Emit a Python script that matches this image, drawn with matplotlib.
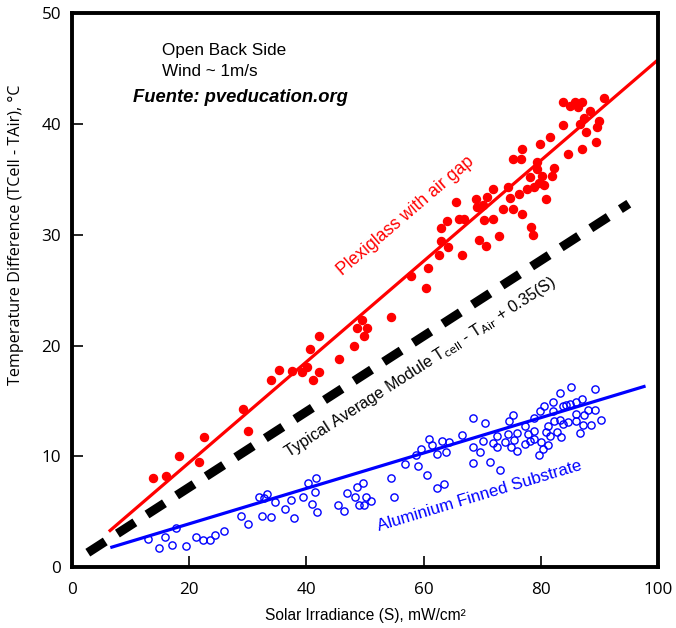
import numpy as np
import matplotlib
matplotlib.use('Agg')
import matplotlib.pyplot as plt

plt.rcParams['font.family'] = ['Liberation Sans', 'DejaVu Sans']

#------------------------------------------------------------------------------
# data
#------------------------------------------------------------------------------
# plexiglass with air gap (red filled dots)
red_x = [13.8, 16.1, 18.2, 21.7, 22.5, 29.2, 30.1, 34.0, 35.4, 37.5, 39.2, 40.1,
         40.6, 42.2, 41.2, 42.2, 45.5, 48.1, 48.7, 49.5, 50.4, 49.9, 54.4, 60.4,
         57.9, 60.7, 62.6, 62.9, 64.2, 62.9, 63.9, 66.6, 65.6, 66.0, 66.9, 68.9,
         69.1, 70.1, 70.8, 69.4, 70.7, 70.3, 71.8, 71.8, 72.8, 73.6, 74.4, 74.7,
         75.3, 76.3, 75.2, 76.7, 76.6, 76.8, 77.7, 78.2, 78.4, 78.7, 78.8, 79.3,
         79.4, 79.7, 79.8, 80.2, 80.6, 80.9, 81.6, 81.9, 82.2, 83.8, 83.8, 84.7,
         85.0, 85.8, 86.3, 87.1, 88.3, 86.6, 87.4, 87.7, 87.0, 89.4, 89.6, 89.9,
         90.8]
red_y = [8.0, 8.2, 10.0, 9.5, 11.7, 14.3, 12.3, 16.9, 17.8, 17.7, 17.6, 18.1,
         19.7, 20.9, 16.9, 17.6, 18.8, 20.0, 21.6, 22.3, 21.6, 20.9, 22.6, 25.2,
         26.3, 27.0, 28.2, 29.4, 28.9, 30.6, 31.2, 28.2, 33.0, 31.4, 31.4, 33.2,
         32.5, 32.7, 33.4, 29.5, 29.0, 31.3, 31.4, 34.1, 29.9, 32.3, 34.3, 33.3,
         32.3, 33.7, 36.8, 37.7, 36.8, 31.9, 34.1, 35.2, 30.7, 30.0, 34.3, 36.6,
         35.9, 34.7, 38.2, 35.3, 34.5, 33.2, 38.8, 35.3, 36.0, 42.0, 39.9, 37.3,
         41.6, 42.0, 41.5, 42.0, 41.2, 40.0, 40.5, 39.3, 37.7, 38.4, 39.7, 40.3,
         42.3]

# aluminium finned substrate (blue open circles)
blue_x = [13.0, 14.8, 15.9, 17.1, 17.7, 19.4, 21.1, 22.4, 23.6, 24.4, 26.0, 28.8,
          30.1, 31.9, 33.3, 32.4, 33.9, 34.7, 32.8, 36.4, 37.3, 37.8, 39.4, 40.2,
          41.6, 41.4, 40.9, 41.8, 45.4, 46.4, 47.0, 48.7, 49.6, 48.3, 49.0, 49.9,
          50.2, 51.1, 54.4, 55.0, 56.9, 58.7, 59.1, 59.5, 60.6, 60.9, 61.5, 62.2,
          62.2, 63.4, 63.1, 63.8, 64.4, 66.6, 68.4, 68.4, 68.4, 69.6, 70.1, 70.5,
          71.3, 71.8, 72.6, 72.6, 73.0, 73.9, 74.4, 74.5, 74.9, 75.3, 75.4, 76.0,
          76.0, 77.3, 77.3, 77.8, 78.2, 78.9, 78.9, 78.9, 79.7, 79.9, 80.0, 80.3,
          80.6, 80.9, 81.2, 81.2, 81.6, 82.0, 82.1, 82.2, 82.8, 83.3, 83.5, 83.3,
          83.7, 83.7, 84.3, 84.7, 85.2, 84.9, 86.0, 86.0, 86.0, 86.7, 87.1, 87.2,
          87.4, 88.0, 88.6, 89.2, 89.3, 90.3]
blue_y = [2.5, 1.7, 2.7, 2.0, 3.5, 1.9, 2.7, 2.4, 2.4, 2.9, 3.3, 4.6,
          3.9, 6.3, 6.6, 4.6, 4.5, 5.9, 6.2, 5.2, 6.1, 4.4, 6.3, 7.6,
          8.0, 6.8, 5.7, 5.0, 5.6, 5.1, 6.7, 7.2, 7.6, 6.3, 5.6, 5.6,
          6.3, 6.0, 8.0, 6.3, 9.3, 10.1, 9.1, 10.7, 8.3, 11.6, 11.0, 10.2,
          7.1, 7.5, 11.4, 10.4, 11.3, 11.9, 13.5, 10.8, 9.4, 10.4, 11.4, 13.0,
          9.5, 11.2, 11.8, 10.8, 8.8, 11.3, 12.0, 13.2, 10.8, 13.7, 11.5, 10.5,
          12.1, 12.7, 11.1, 12.0, 11.4, 12.3, 13.5, 11.6, 10.1, 14.1, 11.3, 10.7,
          14.5, 12.2, 11.0, 12.7, 11.8, 14.9, 14.1, 13.2, 12.2, 15.7, 11.7, 13.3,
          14.5, 12.9, 14.6, 13.1, 16.3, 14.7, 13.8, 13.2, 14.9, 12.1, 15.2, 12.8,
          13.7, 14.2, 12.8, 16.1, 14.2, 13.3]

# fitted lines (end points)
red_fit_x = [6.5, 100]
red_fit_y = [3.3, 45.8]
avg_fit_x = [2.7, 95]
avg_fit_y = [1.3, 32.8]
blue_fit_x = [6.8, 97.6]
blue_fit_y = [1.8, 16.3]

x_ticks = [0, 20, 40, 60, 80, 100]
y_ticks = [0, 10, 20, 30, 40, 50]

#------------------------------------------------------------------------------
# canvas
#------------------------------------------------------------------------------
fig = plt.figure(figsize=(6.76, 6.28), dpi=100)
ax = fig.add_axes([0.1065, 0.097, 0.867, 0.882])

ax.plot(avg_fit_x, avg_fit_y, color='black', lw=6.5, dashes=(2.3, 1.6),
        solid_capstyle='butt', dash_capstyle='butt')
ax.plot(red_fit_x, red_fit_y, color='#ff0000', lw=2.3)
ax.plot(blue_fit_x, blue_fit_y, color='#0000ff', lw=2.3)

ax.plot(red_x, red_y, 'o', color='#ff0000', ms=5.8, mec='#ff0000')
ax.plot(blue_x, blue_y, 'o', mfc='none', mec='#0000ff', ms=5.2, mew=1.0)

#annotations
ax.text(56.9, 31.7, 'Plexiglass with air gap', color='#ff0000', fontsize=12.7,
        rotation=40.5, ha='center', va='center', rotation_mode='anchor')
ax.text(59.5, 18.0, r'Typical Average Module T$_{\rm cell}$ - T$_{\rm Air}$ + 0.35(S)',
        color='black', fontsize=11.6, rotation=32.8, ha='center', va='center',
        rotation_mode='anchor')
ax.text(69.6, 6.4, 'Aluminium Finned Substrate', color='#0000ff', fontsize=12.2,
        rotation=16.8, ha='center', va='center', rotation_mode='anchor')

ax.text(15.4, 46.6, 'Open Back Side', fontsize=12.3, va='center')
ax.text(15.4, 44.7, 'Wind ~ 1m/s', fontsize=12.3, va='center')
ax.text(10.4, 42.4, 'Fuente: pveducation.org', fontsize=13.2, fontweight='bold',
        style='italic', va='center')

#axes
ax.set_xlim(0, 100)
ax.set_ylim(0, 50)
ax.set_xticks(x_ticks)
ax.set_yticks(y_ticks)
ax.tick_params(direction='in', length=8, width=1.2, labelsize=12.3,
               labelfontfamily='Open Sans')
ax.tick_params(axis='x', pad=11)
ax.tick_params(axis='y', pad=8)
for side in ['left', 'right', 'top', 'bottom']:
    ax.spines[side].set_linewidth(2.8)

ax.set_xlabel('Solar Irradiance (S), mW/cm²', fontsize=11.2, labelpad=7)
ax.set_ylabel('Temperature Difference (TCell - TAir), °C', fontsize=11.6,
              family='Open Sans')
ax.yaxis.set_label_coords(-0.082, 0.6)

fig.savefig('out.png', dpi=100)
